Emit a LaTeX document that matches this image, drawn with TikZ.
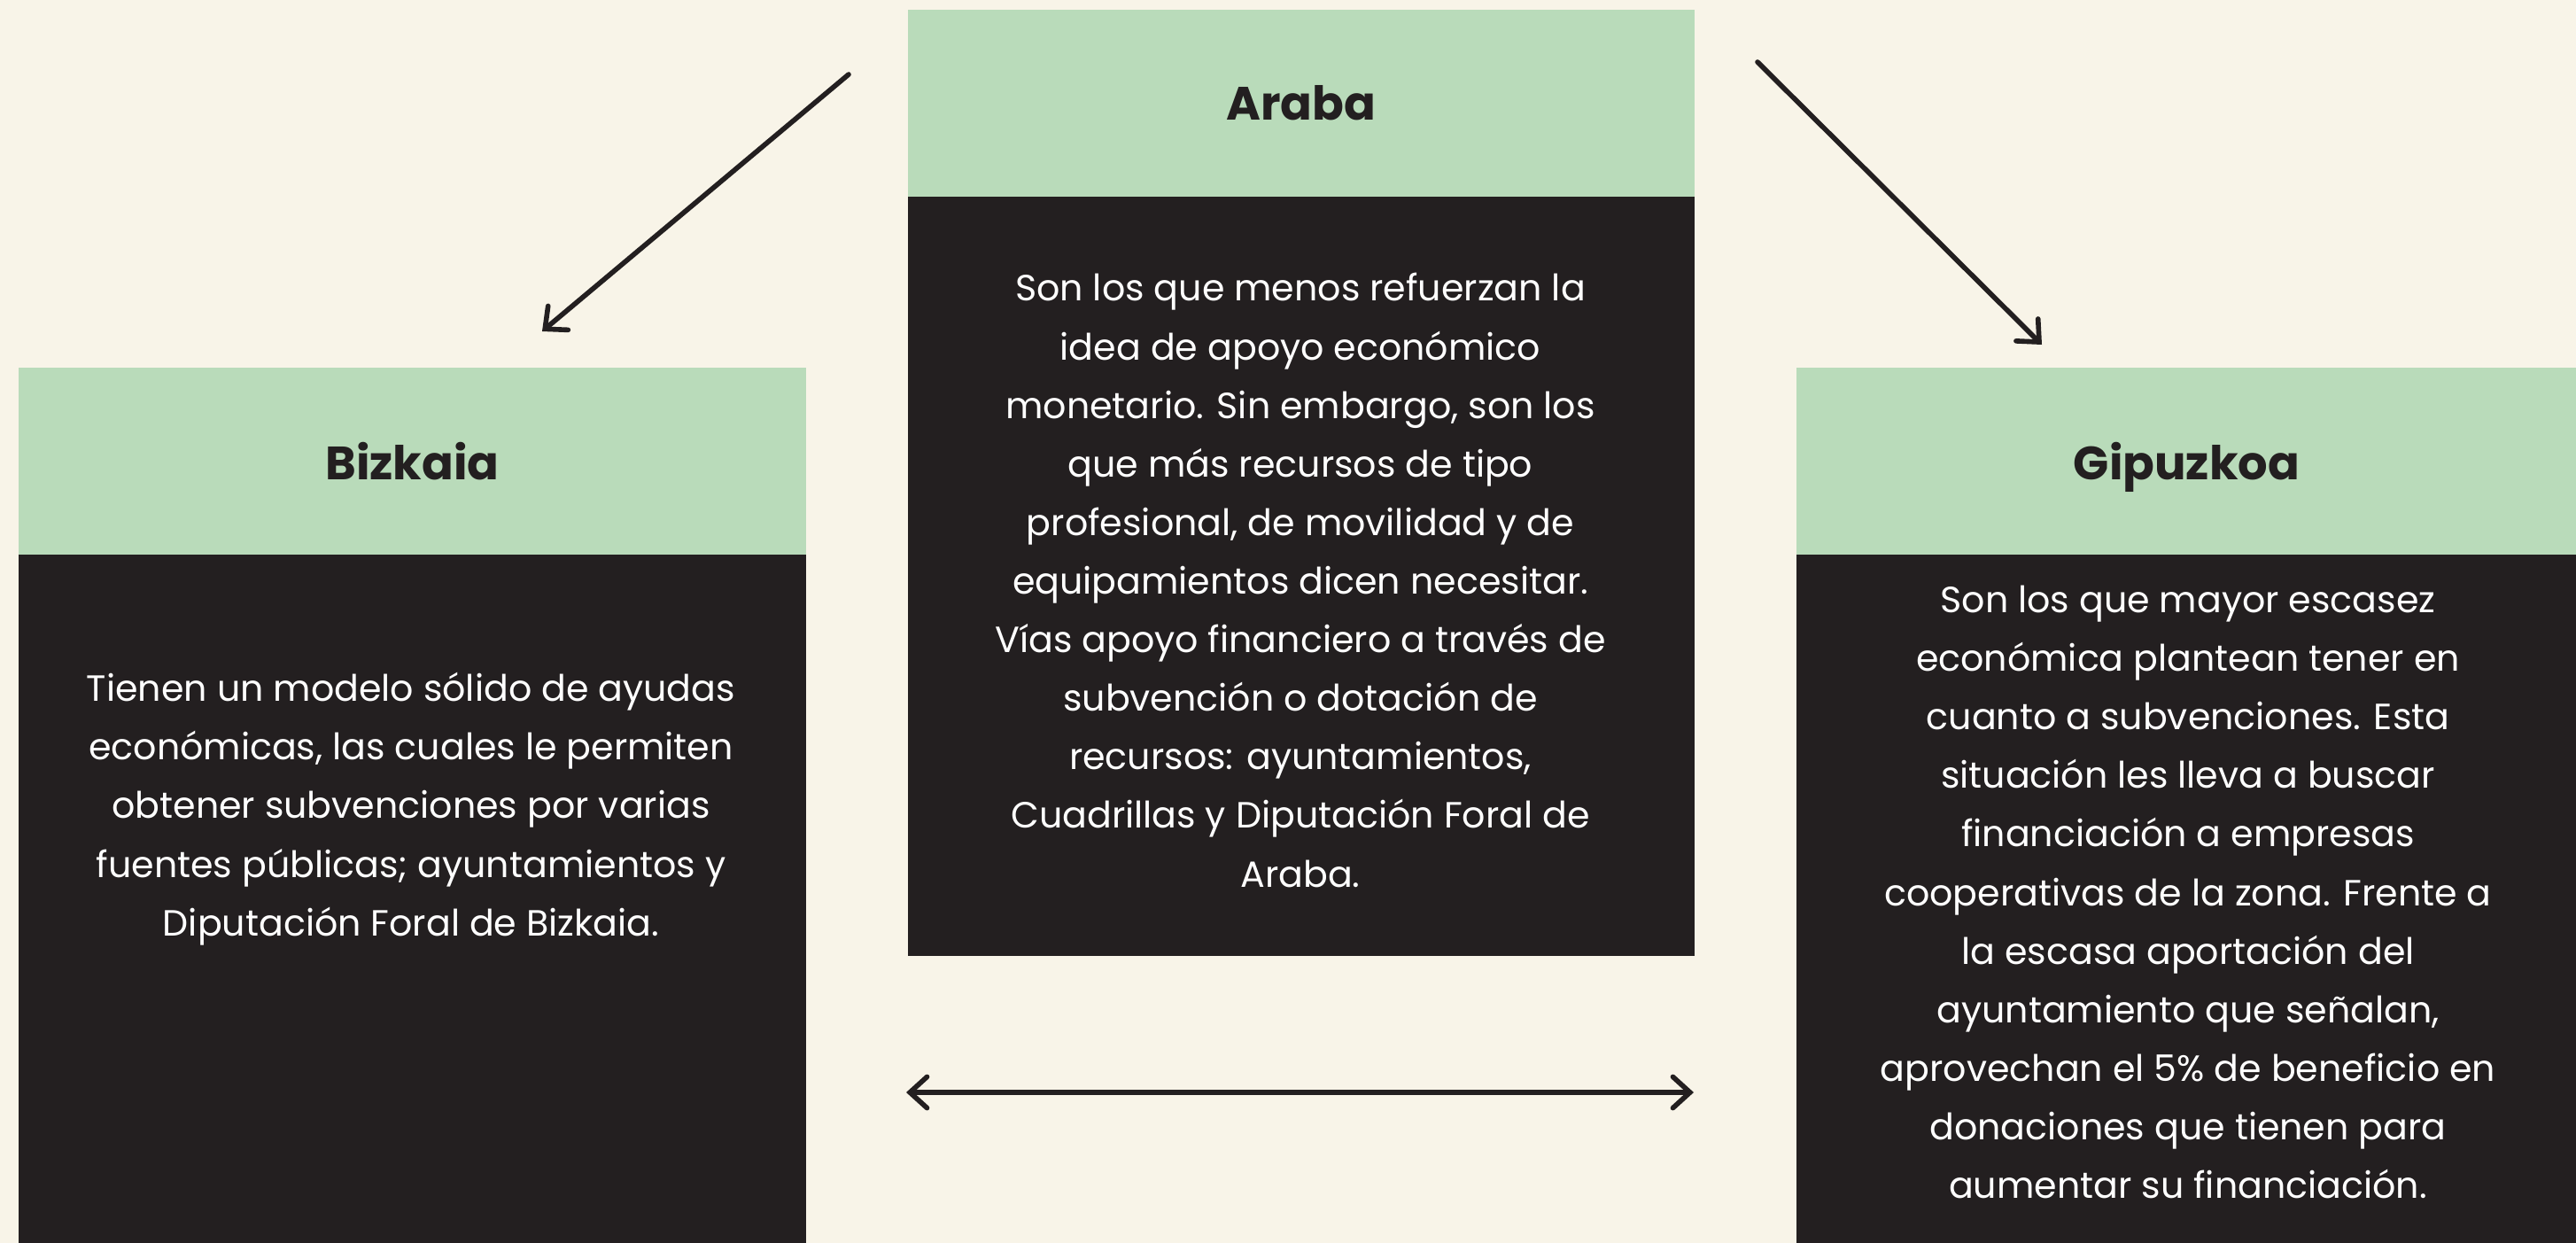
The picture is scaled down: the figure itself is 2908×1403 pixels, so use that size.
\documentclass[tikz,border=0pt]{standalone}
\usepackage{fontspec}
\setmainfont{Poppins}
\usetikzlibrary{arrows.meta}
\definecolor{bgc}{HTML}{F8F4E8}
\definecolor{greenc}{HTML}{B9DBBA}
\definecolor{darkc}{HTML}{231F20}
\begin{document}
\begin{tikzpicture}[x=0.01cm,y=-0.01cm,
  hdr/.style={fill=greenc, draw=none, inner sep=0, minimum height=2.11cm, anchor=north west, text=darkc, text depth=0pt, font=\fontsize{15}{18}\selectfont\bfseries},
  bodybox/.style={fill=darkc, draw=none, inner sep=0, anchor=north west},
  bodytext/.style={text=white, align=center, inner sep=0, font=\fontsize{11.7}{18.8}\selectfont},
  tip/.style={Straight Barb[length=5.5pt,width=10pt,line cap=round]},
  conn/.style={draw=darkc, line width=1.6pt, line cap=round, -{Straight Barb[length=5.5pt,width=10pt,line cap=round]}},
  conn2/.style={draw=darkc, line width=1.6pt, line cap=round, {Straight Barb[length=5.5pt,width=10pt,line cap=round]}-{Straight Barb[length=5.5pt,width=10pt,line cap=round]}}]
\useasboundingbox (0,0) rectangle (2908,1403);
\fill[bgc] (0,0) rectangle (2908,1403);
% Araba
\node[hdr, minimum width=8.88cm] (arabaH) at (1024,10) {Araba};
\node[bodybox, minimum width=8.88cm, minimum height=8.57cm] (arabaB) at (1024,221) {};
\node[bodytext] (arabaT) at (1468,655) {Son los que menos refuerzan la\\idea de apoyo económico\\monetario. Sin embargo, son los\\que más recursos de tipo\\profesional, de movilidad y de\\equipamientos dicen necesitar.\\Vías apoyo financiero a través de\\subvención o dotación de\\recursos: ayuntamientos,\\Cuadrillas y Diputación Foral de\\Araba.};
% Bizkaia
\node[hdr, minimum width=8.89cm] (bizkaiaH) at (20,414) {Bizkaia};
\node[bodybox, minimum width=8.89cm, minimum height=7.78cm] (bizkaiaB) at (20,625) {};
\node[bodytext] (bizkaiaT) at (464,913) {Tienen un modelo sólido de ayudas\\económicas, las cuales le permiten\\obtener subvenciones por varias\\fuentes públicas; ayuntamientos y\\Diputación Foral de Bizkaia.};
% Gipuzkoa
\node[hdr, minimum width=8.81cm] (gipuzkoaH) at (2027,414) {Gipuzkoa};
\node[bodybox, minimum width=8.81cm, minimum height=7.78cm] (gipuzkoaB) at (2027,625) {};
\node[bodytext] (gipuzkoaT) at (2470,1007) {Son los que mayor escasez\\económica plantean tener en\\cuanto a subvenciones. Esta\\situación les lleva a buscar\\financiación a empresas\\cooperativas de la zona. Frente a\\la escasa aportación del\\ayuntamiento que señalan,\\aprovechan el 5\% de beneficio en\\donaciones que tienen para\\aumentar su financiación.};
% connectors
\coordinate (a1s) at (958,84);
\coordinate (a1e) at (612,374);
\coordinate (a2s) at (1984,70);
\coordinate (a2e) at (2305,389);
\coordinate (a3s) at (1023,1233);
\coordinate (a3e) at (1912,1233);
\draw[conn] (a1s) -- (a1e);
\draw[conn] (a2s) -- (a2e);
\draw[conn2] (a3s) -- (a3e);
\end{tikzpicture}
\end{document}
